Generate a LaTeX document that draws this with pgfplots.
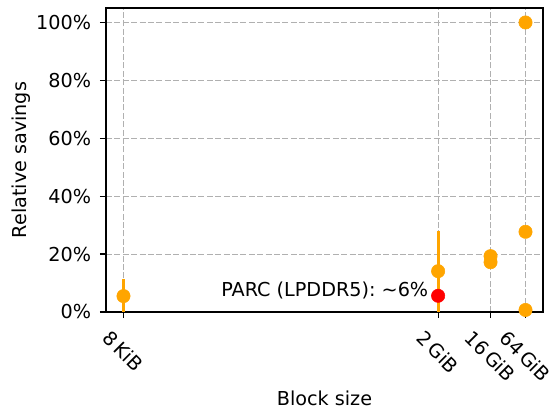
\documentclass[border=0pt]{standalone}
\usepackage{graphicx}
\usepackage{fontspec}
\setmainfont{DejaVu Sans}
\usepackage{pgfplots}
\pgfplotsset{compat=1.18}
\definecolor{mplorange}{HTML}{FFA500}
\definecolor{mplred}{HTML}{FF0000}
\definecolor{gridgray}{HTML}{B0B0B0}
\newcommand{\lblfont}{\fontsize{14.4pt}{16pt}\selectfont}
\begin{document}
\lblfont
\begin{tikzpicture}
\useasboundingbox (-79.5pt,-72pt) rectangle (335.25pt,234pt);
\begin{axis}[
  scale only axis,
  width=327.75pt, height=228pt,
  xmin=12, xmax=37,
  ymin=0, ymax=105,
  axis line style={black, line width=0.9pt},
  tick style={black, line width=0.9pt},
  major tick length=4.5pt,
  tick align=outside,
  xtick pos=lower, ytick pos=left,
  xtick={13,31,34,36},
  xticklabels={\rotatebox{-45}{8\,KiB},\rotatebox{-45}{2\,GiB},\rotatebox{-45}{16\,GiB},\rotatebox{-45}{64\,GiB}},
  ytick={0,20,40,60,80,100},
  yticklabels={0\%,20\%,40\%,60\%,80\%,100\%},
  xticklabel style={anchor=north, inner sep=0pt, yshift=-8.5pt, font=\lblfont},
  yticklabel style={anchor=east, inner sep=0pt, xshift=-6.5pt, font=\lblfont},
  grid=major,
  major grid style={gridgray, line width=0.85pt, dash pattern=on 4.5pt off 1.8pt},
  xlabel={Block size},
  ylabel={Relative savings},
  xlabel style={at={(axis description cs:0.5,-0.306)}, anchor=base, inner sep=0pt, font=\lblfont},
  ylabel style={at={(axis description cs:-0.194,0.5)}, anchor=center, inner sep=0pt, font=\lblfont},
]
\addplot[only marks, mark=*, mark size=5pt, mplorange, mark options={draw=mplorange, fill=mplorange},
  error bars/.cd, y dir=both, y explicit,
  error mark=none,
  error bar style={line width=2.2pt, mplorange}]
  coordinates {
    (13,5.5) += (0,5.8) -= (0,5.5)
    (31,14.1) += (0,13.9) -= (0,14.1)
    (34,19.3) += (0,0) -= (0,0)
    (34,17.2) += (0,0) -= (0,0)
    (36,100) += (0,0) -= (0,0)
    (36,27.7) += (0,0) -= (0,0)
    (36,0.7) += (0,0) -= (0,0)
  };
\addplot[only marks, mark=*, mark size=5pt, mark options={draw=mplred, fill=mplred}]
  coordinates {(31,5.6)};
\node[anchor=base east, inner sep=0pt, font=\lblfont] at (axis cs:30.45,5.2) {PARC (LPDDR5):~\textasciitilde6\%};
\end{axis}
\end{tikzpicture}
\end{document}
